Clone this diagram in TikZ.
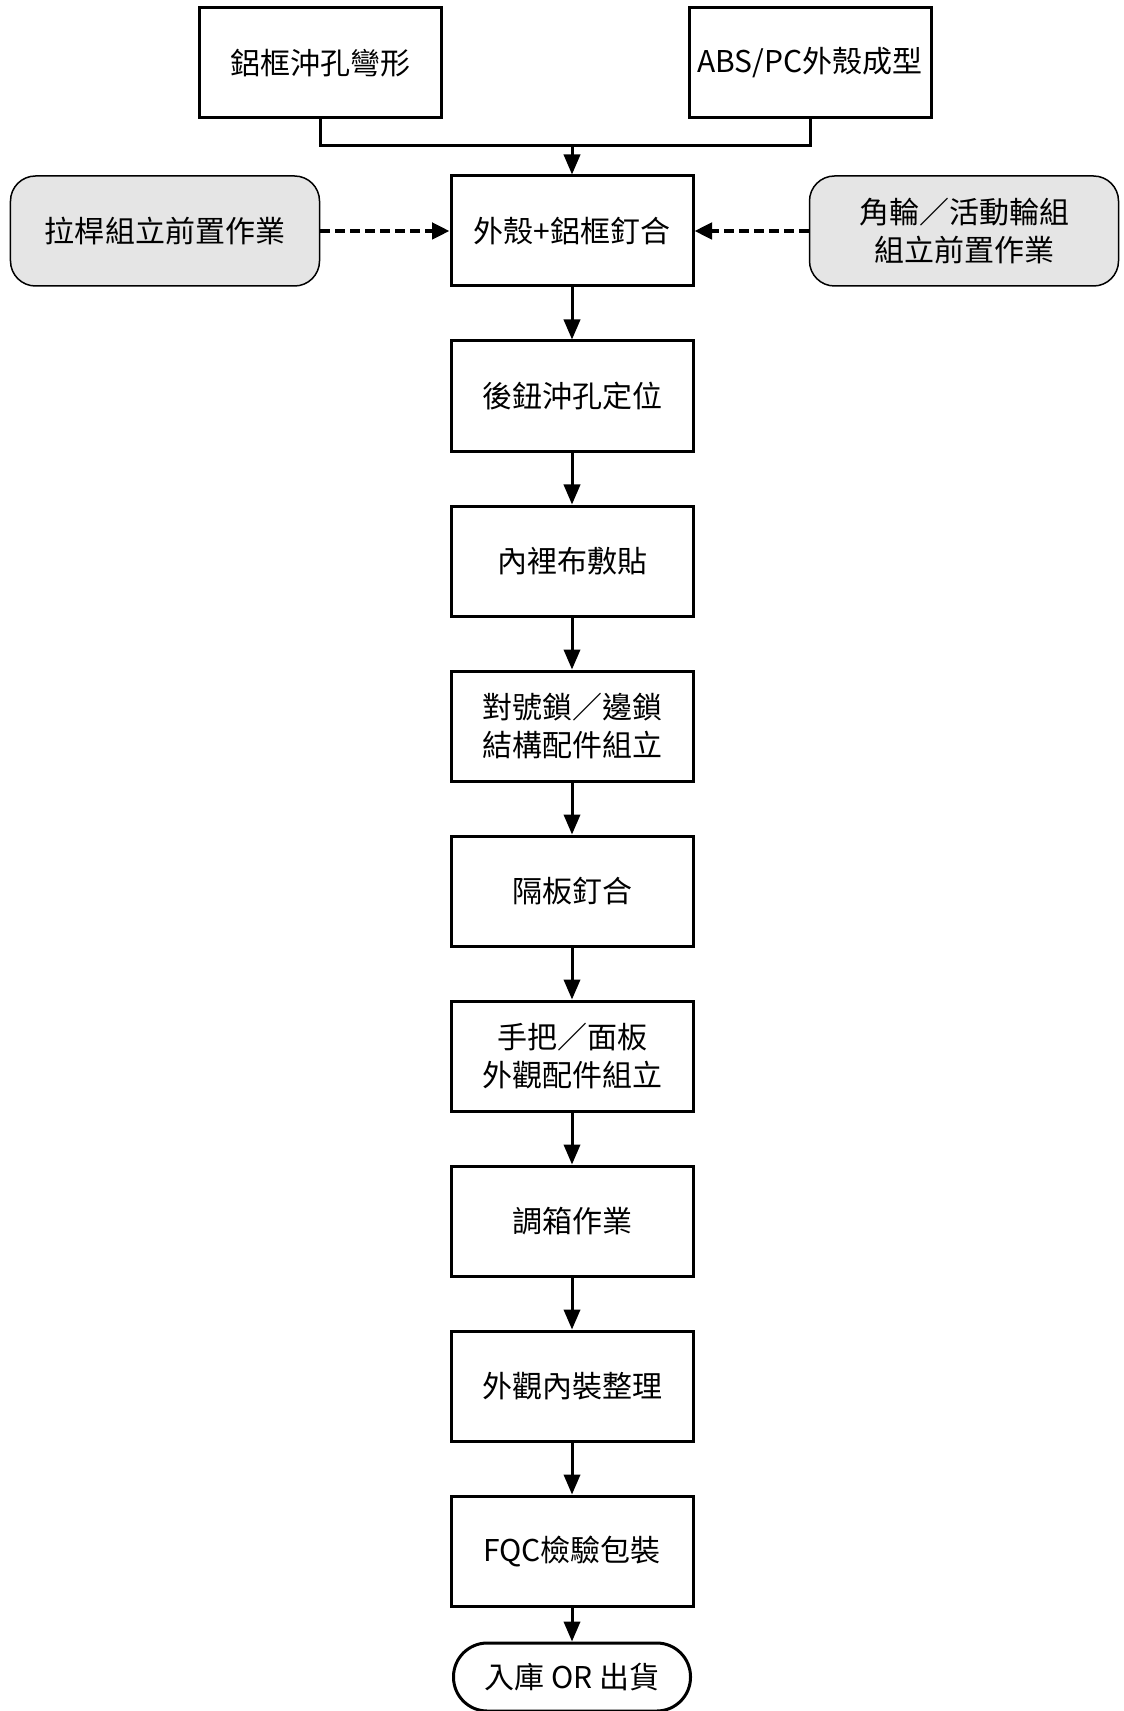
\documentclass[tikz,border=0pt]{standalone}
\usepackage{fontspec}
\setmainfont{Noto Sans CJK TC}
\usetikzlibrary{arrows.meta}

\begin{document}
\begin{tikzpicture}[x=0.4pt, y=-0.4pt]
    % Define styles
    \tikzset{
        processbox/.style={draw, line width=1.2pt, minimum width=96.8pt, minimum height=44pt, align=center, font=\fontsize{12}{15}\selectfont},
        prepbox/.style={draw, line width=0.6pt, fill=black!10, rounded corners=10pt, minimum width=123.6pt, minimum height=44pt, align=center, font=\fontsize{12}{15}\selectfont},
        endbox/.style={draw, line width=1.2pt, rounded corners=13.5pt, minimum width=94.8pt, minimum height=27.2pt, align=center, font=\fontsize{12}{15}\selectfont},
        flowline/.style={line width=1.2pt},
        thickarrow/.style={-{Triangle[length=8pt, width=6.5pt]}, line width=1.2pt},
        dasharrow/.style={-{Triangle[length=7pt, width=6.5pt]}, line width=1.6pt, dash pattern=on 4pt off 2pt}
    }
    \useasboundingbox (0,0) rectangle (1124,1711);

    % Incoming parts
    \node[processbox] (frame) at (320,63) {鋁框沖孔彎形};
    \node[processbox] (shell) at (810,63) {ABS/PC外殼成型};

    % Main line
    \node[processbox] (rivet) at (572,231) {外殼+鋁框釘合};
    \node[processbox] (punch) at (572,396) {後鈕沖孔定位};
    \node[processbox] (lining) at (572,561) {內裡布敷貼};
    \node[processbox] (lock) at (572,726) {對號鎖／邊鎖\\結構配件組立};
    \node[processbox] (divider) at (572,891) {隔板釘合};
    \node[processbox] (handle) at (572,1056) {手把／面板\\外觀配件組立};
    \node[processbox] (adjust) at (572,1221) {調箱作業};
    \node[processbox] (tidy) at (572,1386) {外觀內裝整理};
    \node[processbox] (fqc) at (572,1551) {FQC檢驗包裝};
    \node[endbox] (stock) at (572,1677) {入庫 OR 出貨};

    % Side preparations
    \node[prepbox] (rod) at (165,231) {拉桿組立前置作業};
    \node[prepbox] (wheel) at (964,231) {角輪／活動輪組\\組立前置作業};

    % Merge of incoming parts
    \coordinate (merge) at (572,146);
    \draw[flowline] (frame.south) |- (merge) -| (shell.south);
    \draw[thickarrow] (merge) -- (rivet);

    % Arrows along the main line
    \draw[thickarrow] (rivet) -- (punch);
    \draw[thickarrow] (punch) -- (lining);
    \draw[thickarrow] (lining) -- (lock);
    \draw[thickarrow] (lock) -- (divider);
    \draw[thickarrow] (divider) -- (handle);
    \draw[thickarrow] (handle) -- (adjust);
    \draw[thickarrow] (adjust) -- (tidy);
    \draw[thickarrow] (tidy) -- (fqc);
    \draw[thickarrow] (fqc) -- (stock);

    % Dashed arrows from side preparations
    \draw[dasharrow] (rod) -- (rivet);
    \draw[dasharrow] (wheel) -- (rivet);

\end{tikzpicture}
\end{document}
